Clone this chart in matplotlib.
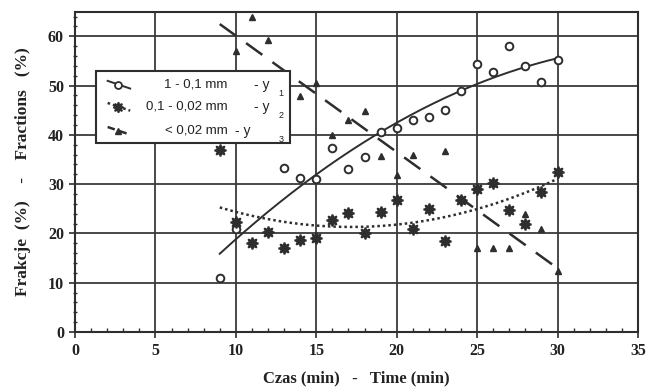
import numpy as np
import matplotlib
matplotlib.use("Agg")
import matplotlib.pyplot as plt
from matplotlib.lines import Line2D
from matplotlib.patches import Rectangle

# ---- data ----
x1 = [9, 10, 13, 14, 15, 16, 17, 18, 19, 20, 21, 22, 23, 24, 25, 26, 27, 28, 29, 30]
y1 = [11, 21, 33.2, 31.3, 31, 37.4, 33.1, 35.5, 40.5, 41.4, 43, 43.6, 45, 49, 54.3, 52.7, 58, 54, 50.8, 55.2]

x2 = [9, 10, 11, 12, 13, 14, 15, 16, 17, 18, 19, 20, 21, 22, 23, 24, 25, 26, 27, 28, 29, 30]
y2 = [37, 22.4, 18, 20.2, 17.1, 18.7, 19.1, 22.7, 24.2, 20, 24.3, 26.8, 21, 24.9, 18.5, 26.7, 29, 30.3, 24.8, 22, 28.4, 32.5]

x3 = [10, 11, 12, 14, 15, 16, 17, 18, 19, 20, 21, 23, 25, 26, 27, 28, 29, 30]
y3 = [57, 64, 59.2, 47.8, 50.5, 40, 43.1, 44.9, 35.7, 31.9, 36, 36.7, 17, 17, 17, 24, 20.9, 12.4]

labels = ["1 - 0,1 mm", "0,1 - 0,02 mm", "< 0,02 mm"]
xticks = [0, 5, 10, 15, 20, 25, 30, 35]
yticks = [0, 10, 20, 30, 40, 50, 60]

C = "#2e2e2e"
T = "#222222"
serif = "Liberation Serif"
sans = "Liberation Sans"

fig = plt.figure(figsize=(6.5, 3.89), dpi=100)
ax = fig.add_axes([0.1154, 0.1465, 0.8661, 0.8235])

ax.set_xlim(0, 35)
ax.set_ylim(0, 65)

# grid and ticks
ax.set_xticks(xticks)
ax.set_yticks(yticks)
ax.grid(True, color="#3a3a3a", lw=1.3)
ax.set_axisbelow(True)
ax.set_xticks(np.arange(0, 36, 1), minor=True)
ax.set_yticks(np.arange(0, 66, 2), minor=True)
ax.tick_params(axis="both", which="major", direction="out", length=4, width=1.2, color=C,
               labelsize=11.5, pad=4)
ax.tick_params(axis="x", which="minor", direction="in", length=3, width=1, color=C)
ax.tick_params(axis="y", which="minor", direction="inout", length=3, width=1, color=C)
for lab in ax.get_xticklabels() + ax.get_yticklabels():
    lab.set_fontfamily(serif)
    lab.set_fontweight("bold")
    lab.set_color(T)
for sp in ax.spines.values():
    sp.set_color(C)
    sp.set_linewidth(1.5)

# trend curves fitted to the data
xs = np.linspace(9, 30, 200)
c1 = np.polyfit(x1, y1, 2)
c2 = np.polyfit(x2, y2, 2)
c3 = np.polyfit(x3, y3, 1)
ls2 = (0, (1, 1.2))
ls3 = (0, (8, 5))
ax.plot(xs, np.polyval(c1, xs), color=C, lw=1.4, ls="-", zorder=3)
ax.plot(xs, np.polyval(c2, xs), color=C, lw=1.8, ls=ls2, zorder=3)
ax.plot(xs, np.polyval(c3, xs), color=C, lw=1.8, ls=ls3, zorder=3)

# points
ax.plot(x1, y1, ls="none", marker="o", ms=5.5, mfc="white", mec=C, mew=1.4, zorder=4, clip_on=False)
ax.plot(x2, y2, ls="none", marker=(8, 1, 0), ms=8.5, mfc=C, mec=C, mew=1.3, zorder=4, clip_on=False)
ax.plot(x3, y3, ls="none", marker="^", ms=4.5, mfc=C, mec=C, mew=1, zorder=4, clip_on=False)

# axis labels
ax.set_xlabel("Czas (min)   -   Time (min)", fontfamily=serif, fontweight="bold",
              fontsize=12, color=T, labelpad=8)
ax.set_ylabel("Frakcje  (%)    -    Fractions   (%)", fontfamily=serif, fontweight="bold",
              fontsize=12.5, color=T, labelpad=12)

# legend (drawn as a framed box in axes coordinates)
tr = ax.transAxes
ax.add_patch(Rectangle((0.0373, 0.5896), 0.3447, 0.2239, transform=tr, facecolor="white",
                       edgecolor=C, lw=1.5, zorder=6))
rows_y = [0.772, 0.703, 0.628]
styles = [
    dict(ls="-", lw=1.4, marker="o", ms=5, mfc="white", mec=C, mew=1.3),
    dict(ls=(0, (1, 1.2)), lw=1.8, marker=(8, 1, 0), ms=7.5, mfc=C, mec=C, mew=1.2),
    dict(ls=(0, (3, 2)), lw=1.8, marker="^", ms=4, mfc=C, mec=C, mew=1),
]
yx = [0.318, 0.318, 0.285]
for i, yy in enumerate(rows_y):
    ax.add_line(Line2D([0.058, 0.098], [yy + 0.012, yy - 0.012], transform=tr, color=C,
                       markevery=[1] if False else None, zorder=7, **{k: v for k, v in styles[i].items() if k not in ("marker", "ms", "mfc", "mec", "mew")}))
    ax.add_line(Line2D([0.077], [yy], transform=tr, ls="none", zorder=8,
                       **{k: v for k, v in styles[i].items() if k in ("marker", "ms", "mfc", "mec", "mew")}))
    ax.text(0.271, yy, labels[i], transform=tr, fontfamily=sans, fontsize=9.5, color=T,
            va="center", ha="right", zorder=8)
    ax.text(yx[i], yy, "- y", transform=tr, fontfamily=sans, fontsize=10, color=T,
            va="center", ha="left", zorder=8)
    ax.text(0.362, yy - 0.028, str(i + 1), transform=tr, fontfamily=sans,
            fontsize=6.5, color=T, va="center", ha="left", zorder=8)

fig.savefig("out.png", dpi=100, facecolor="white")
